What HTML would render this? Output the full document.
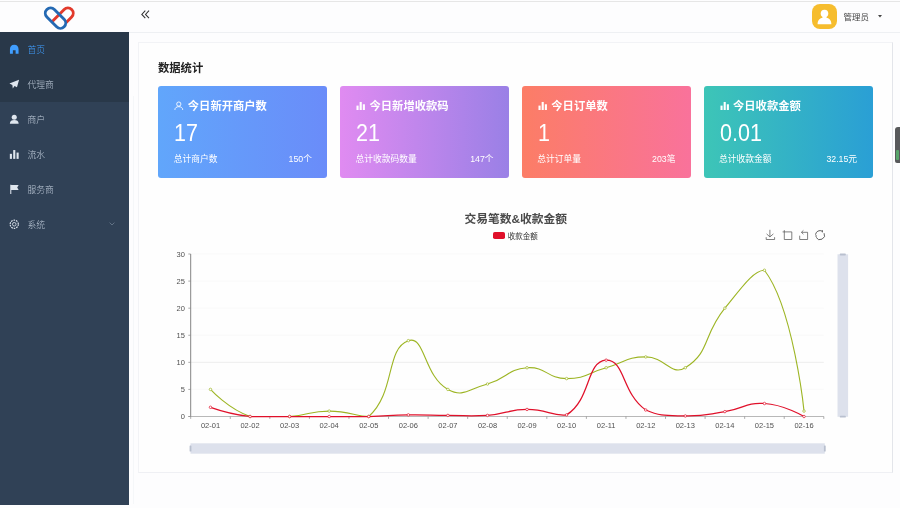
<!DOCTYPE html>
<html lang="zh-CN">
<head>
<meta charset="utf-8">
<title>数据统计</title>
<style>
*{box-sizing:border-box;margin:0;padding:0}
html,body{width:900px;height:508px;overflow:hidden;background:#fdfdfe}
body{position:relative;font-family:"Liberation Sans","Noto Sans CJK SC",sans-serif;color:#303133}
.abs{position:absolute}
#topline{left:0;top:1px;width:900px;height:1px;background:#e6e6e6}
#side{left:0;top:32px;width:128.8px;height:473.4px;background:#304156}
#side .dark{position:absolute;left:0;top:0;width:129px;height:70.2px;background:#293849}
.mi{position:absolute;left:0;width:129px;height:35px;color:#bfcbd9;font-size:8.75px;line-height:35px}
.mi span{position:absolute;left:27.5px;top:1.2px;font-weight:300}
.mi svg{position:absolute;left:8.8px;top:12px;width:10.5px;height:10.5px}
.mi.act{color:#409eff}
#logo{left:40px;top:0;width:40px;height:32px}
#hdr{left:129px;top:0;width:771px;height:33px;border-bottom:1px solid #eef0f3}
#panel{left:138px;top:42px;width:754.6px;height:431px;border:1px solid #f2f3f6;border-right-color:#e3e5ea;border-bottom-color:#eff0f4;background:#fefefe}
#ttl{left:158px;top:60.8px;font-size:11.3px;font-weight:bold;color:#222;line-height:15px}
.card{position:absolute;top:86px;width:169px;height:91.7px;border-radius:3px;color:#fff}
.card .t{position:absolute;left:29.5px;top:13.4px;font-size:11.3px;font-weight:bold;line-height:15px;white-space:nowrap}
.card .ic{position:absolute;left:16.2px;top:14.8px;width:9.6px;height:9.6px}
.card .n{position:absolute;left:16px;top:34px;font-size:23.4px;line-height:26px;transform:scaleX(.92);transform-origin:0 50%;white-space:nowrap}
.card .l{position:absolute;left:15.4px;top:66.8px;font-size:8.75px;line-height:12px;white-space:nowrap}
.card .r{position:absolute;right:15.4px;top:66.8px;font-size:8.75px;line-height:12px;white-space:nowrap}
#user{left:843.5px;top:10.5px;font-size:8.5px;line-height:12px;color:#444}
#avatar{left:811.5px;top:4px;width:25px;height:25px;border-radius:8px;background:#f6bd2e;overflow:hidden}
.ax{font-size:7.5px;fill:#505050;font-family:"Liberation Sans",sans-serif}
</style>
</head>
<body>
<div class="abs" id="topline"></div>

<!-- logo -->
<svg class="abs" id="logo" viewBox="40 0 40 32">
  <g fill="none" stroke-width="2.9">
    <path d="M51.75 21.95 L64.15 9.55 A5.3 5.3 0 0 1 71.65 17.05 L65.7 23" stroke="#e23a2b"/>
    <rect x="-5.3" y="-12.2" width="10.6" height="24.4" rx="5.3" transform="translate(55.5 18.2) rotate(-45)" stroke="#2469b3"/>
  </g>
</svg>

<!-- header -->
<div class="abs" id="hdr"></div>
<svg class="abs" style="left:140.5px;top:9.8px;width:9px;height:9px" viewBox="0 0 9 9" fill="none" stroke="#333" stroke-width="1.05">
  <path d="M4.3 0.6 L0.8 4.4 L4.3 8.2"/><path d="M8 0.6 L4.5 4.4 L8 8.2"/>
</svg>
<div class="abs" id="avatar">
  <svg viewBox="0 0 25 25" width="25" height="25"><circle cx="12.5" cy="9.6" r="3.8" fill="#fff"/><path d="M5.6 20.2 C5.6 16 8 14.6 10.6 13.6 V11 H14.4 V13.6 C17 14.6 19.4 16 19.4 20.2 Z" fill="#fff"/></svg>
</div>
<div class="abs" id="user">管理员</div>
<svg class="abs" style="left:877.5px;top:15.3px;width:4px;height:2.6px" viewBox="0 0 4 2.6"><path d="M0 0 H4 L2 2.6 Z" fill="#444"/></svg>

<!-- sidebar -->
<div class="abs" id="side">
  <div class="dark"></div>
  <div class="mi act" style="top:0"><svg viewBox="0 0 10 10"><path d="M5 0.6 C2.3 0.6 0.9 2.6 0.9 5 V9.2 H3.7 V6 H6.3 V9.2 H9.1 V5 C9.1 2.6 7.7 0.6 5 0.6 Z" fill="#409eff"/></svg><span>首页</span></div>
  <div class="mi" style="top:35px"><svg viewBox="0 0 10 10"><path d="M9.6 0.6 L0.4 4.4 L3.2 5.6 L3.6 9 L5.3 6.6 L7.6 7.8 Z" fill="#dfe6ee"/></svg><span>代理商</span></div>
  <div class="mi" style="top:70px"><svg viewBox="0 0 10 10"><circle cx="5" cy="3" r="2.4" fill="#dfe6ee"/><path d="M0.8 9.4 C0.8 6.8 2.6 5.8 5 5.8 C7.4 5.8 9.2 6.8 9.2 9.4 Z" fill="#dfe6ee"/></svg><span>商户</span></div>
  <div class="mi" style="top:105px"><svg viewBox="0 0 10 10"><rect x="0.8" y="4.6" width="2" height="4.8" fill="#dfe6ee"/><rect x="4" y="1" width="2" height="8.4" fill="#dfe6ee"/><rect x="7.2" y="3.4" width="2" height="6" fill="#dfe6ee"/></svg><span>流水</span></div>
  <div class="mi" style="top:140px"><svg viewBox="0 0 10 10"><path d="M1.2 0.6 H2.2 V9.6 H1.2 Z M2.2 1 H9.2 L7.8 3.4 L9.2 5.8 H2.2 Z" fill="#dfe6ee"/></svg><span>服务商</span></div>
  <div class="mi" style="top:175px"><svg viewBox="0 0 10 10" fill="none" stroke="#dfe6ee"><circle cx="5" cy="5" r="3.9" stroke-width="1.1" stroke-dasharray="1.6 0.85"/><circle cx="5" cy="5" r="1.7" stroke-width="0.8"/></svg><span>系统</span>
    <svg style="left:109px;top:14.6px;width:6px;height:4px" viewBox="0 0 6 4" fill="none" stroke="#6f7f92" stroke-width="0.8"><path d="M0.6 0.6 L3 3 L5.4 0.6"/></svg></div>
</div>

<!-- panel -->
<div class="abs" style="left:133.4px;top:96px;width:1px;height:408px;background:#f5f7f9"></div>
<div class="abs" id="panel"></div>
<div class="abs" id="ttl">数据统计</div>

<div class="card" style="left:158.3px;background:linear-gradient(90deg,#61a6fb,#6a8cf9)">
  <svg class="ic" viewBox="0 0 10 10" fill="none" stroke="#fff" stroke-width="0.9"><circle cx="5" cy="3.2" r="2.2"/><path d="M0.9 9.3 C0.9 7 2.8 5.9 5 5.9 C7.2 5.9 9.1 7 9.1 9.3"/></svg>
  <div class="t">今日新开商户数</div><div class="n">17</div><div class="l">总计商户数</div><div class="r">150个</div>
</div>
<div class="card" style="left:340px;background:linear-gradient(90deg,#e08bf1,#9a80e6)">
  <svg class="ic" viewBox="0 0 10 10" fill="#fff"><rect x="0.5" y="4.8" width="2.2" height="4.6"/><rect x="3.8" y="1" width="2.2" height="8.4"/><rect x="7.1" y="3.4" width="2.2" height="6"/></svg>
  <div class="t">今日新增收款码</div><div class="n">21</div><div class="l">总计收款码数量</div><div class="r">147个</div>
</div>
<div class="card" style="left:521.8px;background:linear-gradient(90deg,#fc7d66,#f9729b)">
  <svg class="ic" viewBox="0 0 10 10" fill="#fff"><rect x="0.5" y="4.8" width="2.2" height="4.6"/><rect x="3.8" y="1" width="2.2" height="8.4"/><rect x="7.1" y="3.4" width="2.2" height="6"/></svg>
  <div class="t">今日订单数</div><div class="n">1</div><div class="l">总计订单量</div><div class="r">203笔</div>
</div>
<div class="card" style="left:703.5px;background:linear-gradient(90deg,#3dc5b7,#2a9fd5)">
  <svg class="ic" viewBox="0 0 10 10" fill="#fff"><rect x="0.5" y="4.8" width="2.2" height="4.6"/><rect x="3.8" y="1" width="2.2" height="8.4"/><rect x="7.1" y="3.4" width="2.2" height="6"/></svg>
  <div class="t">今日收款金额</div><div class="n">0.01</div><div class="l">总计收款金额</div><div class="r">32.15元</div>
</div>

<!-- chart -->
<svg class="abs" style="left:0;top:0;width:900px;height:508px;pointer-events:none" viewBox="0 0 900 508">
  <text x="515.7" y="223.2" text-anchor="middle" style="font-size:11.75px;font-weight:bold;fill:#4a4a4a;font-family:'Liberation Sans','Noto Sans CJK SC',sans-serif">交易笔数&amp;收款金额</text>
  <rect x="493" y="232" width="12" height="7" rx="1.8" fill="#e0102a"/>
  <text x="507.8" y="238.5" style="font-size:7.5px;fill:#333;font-family:'Liberation Sans','Noto Sans CJK SC',sans-serif">收款金额</text>
  <!-- toolbox -->
  <g fill="none" stroke="#555" stroke-width="0.75">
    <path d="M769.9 229.8 V236.8 M766.6 233.9 L769.9 236.9 L773.4 233.9 M766.2 237.2 V239.5 H774.6 V237.2"/>
    <path d="M784.3 230.1 V239.5 H791.8 V231.9 H782.6"/>
    <path d="M799.7 235.7 V239.5 H807.6 V232.3 H801.6 M803.4 230.4 L801.4 232.3 L803.4 234.2"/>
    <path d="M824.08 233.2 A4.5 4.5 0 0 1 816.1 237.35 M815.52 234.71 A4.5 4.5 0 0 1 822.25 231.2 M822.4 230.2 V232.4 M815.2 236 H817" stroke="#444" stroke-width="0.85"/>
  </g>
  <!-- sliders -->
  <rect x="837.5" y="254.3" width="10.6" height="162.5" fill="#dde1ec"/>
  <rect x="190.5" y="443.3" width="634.3" height="10.4" fill="#dde1ec"/>
  <rect x="189.6" y="445.5" width="1.8" height="6" rx="0.6" fill="#b9c0cf"/>
  <rect x="823.9" y="445.5" width="1.8" height="6" rx="0.6" fill="#b9c0cf"/>
  <rect x="839.8" y="253.6" width="6" height="1.8" rx="0.6" fill="#b9c0cf"/>
  <rect x="839.8" y="415.8" width="6" height="1.8" rx="0.6" fill="#b9c0cf"/>
<line x1="190.7" x2="823.8" y1="389.42" y2="389.42" stroke="#f7f7f7" stroke-width="0.6"/>
<line x1="190.7" x2="823.8" y1="362.33" y2="362.33" stroke="#e2e2e2" stroke-width="0.6"/>
<line x1="190.7" x2="823.8" y1="335.25" y2="335.25" stroke="#f7f7f7" stroke-width="0.6"/>
<line x1="190.7" x2="823.8" y1="308.17" y2="308.17" stroke="#f7f7f7" stroke-width="0.6"/>
<line x1="190.7" x2="823.8" y1="281.08" y2="281.08" stroke="#f7f7f7" stroke-width="0.6"/>
<line x1="190.7" x2="823.8" y1="254.00" y2="254.00" stroke="#f7f7f7" stroke-width="0.6"/>
<line x1="190.7" x2="190.7" y1="254.0" y2="416.5" stroke="#777" stroke-width="0.9"/>
<line x1="188.3" x2="823.8" y1="416.5" y2="416.5" stroke="#999" stroke-width="0.7"/>
<line x1="188.3" x2="190.7" y1="416.50" y2="416.50" stroke="#888" stroke-width="0.7"/>
<text x="184.9" y="419.20" text-anchor="end" class="ax">0</text>
<line x1="188.3" x2="190.7" y1="389.42" y2="389.42" stroke="#888" stroke-width="0.7"/>
<text x="184.9" y="392.12" text-anchor="end" class="ax">5</text>
<line x1="188.3" x2="190.7" y1="362.33" y2="362.33" stroke="#888" stroke-width="0.7"/>
<text x="184.9" y="365.03" text-anchor="end" class="ax">10</text>
<line x1="188.3" x2="190.7" y1="335.25" y2="335.25" stroke="#888" stroke-width="0.7"/>
<text x="184.9" y="337.95" text-anchor="end" class="ax">15</text>
<line x1="188.3" x2="190.7" y1="308.17" y2="308.17" stroke="#888" stroke-width="0.7"/>
<text x="184.9" y="310.87" text-anchor="end" class="ax">20</text>
<line x1="188.3" x2="190.7" y1="281.08" y2="281.08" stroke="#888" stroke-width="0.7"/>
<text x="184.9" y="283.78" text-anchor="end" class="ax">25</text>
<line x1="188.3" x2="190.7" y1="254.00" y2="254.00" stroke="#888" stroke-width="0.7"/>
<text x="184.9" y="256.70" text-anchor="end" class="ax">30</text>
<line x1="190.70" x2="190.70" y1="416.5" y2="418.9" stroke="#888" stroke-width="0.7"/>
<line x1="230.27" x2="230.27" y1="416.5" y2="418.9" stroke="#888" stroke-width="0.7"/>
<line x1="269.84" x2="269.84" y1="416.5" y2="418.9" stroke="#888" stroke-width="0.7"/>
<line x1="309.41" x2="309.41" y1="416.5" y2="418.9" stroke="#888" stroke-width="0.7"/>
<line x1="348.97" x2="348.97" y1="416.5" y2="418.9" stroke="#888" stroke-width="0.7"/>
<line x1="388.54" x2="388.54" y1="416.5" y2="418.9" stroke="#888" stroke-width="0.7"/>
<line x1="428.11" x2="428.11" y1="416.5" y2="418.9" stroke="#888" stroke-width="0.7"/>
<line x1="467.68" x2="467.68" y1="416.5" y2="418.9" stroke="#888" stroke-width="0.7"/>
<line x1="507.25" x2="507.25" y1="416.5" y2="418.9" stroke="#888" stroke-width="0.7"/>
<line x1="546.82" x2="546.82" y1="416.5" y2="418.9" stroke="#888" stroke-width="0.7"/>
<line x1="586.39" x2="586.39" y1="416.5" y2="418.9" stroke="#888" stroke-width="0.7"/>
<line x1="625.96" x2="625.96" y1="416.5" y2="418.9" stroke="#888" stroke-width="0.7"/>
<line x1="665.52" x2="665.52" y1="416.5" y2="418.9" stroke="#888" stroke-width="0.7"/>
<line x1="705.09" x2="705.09" y1="416.5" y2="418.9" stroke="#888" stroke-width="0.7"/>
<line x1="744.66" x2="744.66" y1="416.5" y2="418.9" stroke="#888" stroke-width="0.7"/>
<line x1="784.23" x2="784.23" y1="416.5" y2="418.9" stroke="#888" stroke-width="0.7"/>
<line x1="823.80" x2="823.80" y1="416.5" y2="418.9" stroke="#888" stroke-width="0.7"/>
<text x="210.48" y="428.0" text-anchor="middle" class="ax">02-01</text>
<text x="250.05" y="428.0" text-anchor="middle" class="ax">02-02</text>
<text x="289.62" y="428.0" text-anchor="middle" class="ax">02-03</text>
<text x="329.19" y="428.0" text-anchor="middle" class="ax">02-04</text>
<text x="368.76" y="428.0" text-anchor="middle" class="ax">02-05</text>
<text x="408.33" y="428.0" text-anchor="middle" class="ax">02-06</text>
<text x="447.90" y="428.0" text-anchor="middle" class="ax">02-07</text>
<text x="487.47" y="428.0" text-anchor="middle" class="ax">02-08</text>
<text x="527.03" y="428.0" text-anchor="middle" class="ax">02-09</text>
<text x="566.60" y="428.0" text-anchor="middle" class="ax">02-10</text>
<text x="606.17" y="428.0" text-anchor="middle" class="ax">02-11</text>
<text x="645.74" y="428.0" text-anchor="middle" class="ax">02-12</text>
<text x="685.31" y="428.0" text-anchor="middle" class="ax">02-13</text>
<text x="724.88" y="428.0" text-anchor="middle" class="ax">02-14</text>
<text x="764.45" y="428.0" text-anchor="middle" class="ax">02-15</text>
<text x="804.02" y="428.0" text-anchor="middle" class="ax">02-16</text>
<path d="M210.48 389.42 C210.48 389.42 228.37 409.08 250.05 416.50 C267.94 416.50 269.93 416.50 289.62 416.50 C309.50 415.14 309.41 411.08 329.19 411.08 C348.97 411.08 356.16 416.50 368.76 416.50 C395.73 392.50 385.51 348.48 408.33 340.67 C425.08 334.93 423.71 376.17 447.90 389.42 C463.28 397.84 468.36 389.23 487.47 384.00 C507.93 378.40 506.84 369.13 527.03 367.75 C546.41 366.42 546.82 378.58 566.60 378.58 C586.39 378.58 586.39 373.17 606.17 367.75 C625.96 362.33 625.96 356.92 645.74 356.92 C665.52 356.92 670.89 376.63 685.31 367.75 C710.46 352.26 702.47 335.77 724.88 308.17 C742.04 287.02 753.66 270.25 764.45 270.25 C793.23 307.68 804.02 411.08 804.02 411.08" fill="none" stroke="#9db524" stroke-width="1.1" stroke-linejoin="round"/>
<circle cx="210.48" cy="389.42" r="1.25" fill="#fff" stroke="#9db524" stroke-width="0.7"/>
<circle cx="250.05" cy="416.50" r="1.25" fill="#fff" stroke="#9db524" stroke-width="0.7"/>
<circle cx="289.62" cy="416.50" r="1.25" fill="#fff" stroke="#9db524" stroke-width="0.7"/>
<circle cx="329.19" cy="411.08" r="1.25" fill="#fff" stroke="#9db524" stroke-width="0.7"/>
<circle cx="368.76" cy="416.50" r="1.25" fill="#fff" stroke="#9db524" stroke-width="0.7"/>
<circle cx="408.33" cy="340.67" r="1.25" fill="#fff" stroke="#9db524" stroke-width="0.7"/>
<circle cx="447.90" cy="389.42" r="1.25" fill="#fff" stroke="#9db524" stroke-width="0.7"/>
<circle cx="487.47" cy="384.00" r="1.25" fill="#fff" stroke="#9db524" stroke-width="0.7"/>
<circle cx="527.03" cy="367.75" r="1.25" fill="#fff" stroke="#9db524" stroke-width="0.7"/>
<circle cx="566.60" cy="378.58" r="1.25" fill="#fff" stroke="#9db524" stroke-width="0.7"/>
<circle cx="606.17" cy="367.75" r="1.25" fill="#fff" stroke="#9db524" stroke-width="0.7"/>
<circle cx="645.74" cy="356.92" r="1.25" fill="#fff" stroke="#9db524" stroke-width="0.7"/>
<circle cx="685.31" cy="367.75" r="1.25" fill="#fff" stroke="#9db524" stroke-width="0.7"/>
<circle cx="724.88" cy="308.17" r="1.25" fill="#fff" stroke="#9db524" stroke-width="0.7"/>
<circle cx="764.45" cy="270.25" r="1.25" fill="#fff" stroke="#9db524" stroke-width="0.7"/>
<circle cx="804.02" cy="411.08" r="1.25" fill="#fff" stroke="#9db524" stroke-width="0.7"/>

<path d="M210.48 407.29 C210.48 407.29 230.01 414.17 250.05 416.50 C269.58 416.50 269.84 416.50 289.62 416.50 C309.41 416.50 309.41 416.50 329.19 416.50 C348.97 416.50 348.98 416.50 368.76 416.50 C388.55 416.09 388.54 415.15 408.33 414.88 C428.11 414.60 428.11 415.28 447.90 415.42 C467.68 415.55 467.79 416.50 487.47 415.42 C507.36 413.92 507.23 409.59 527.03 409.46 C546.80 409.32 551.90 416.50 566.60 414.88 C591.47 399.39 585.80 361.42 606.17 360.17 C625.37 360.17 621.45 392.87 645.74 410.00 C661.02 416.50 665.47 415.55 685.31 415.96 C705.04 416.36 705.24 414.72 724.88 411.62 C744.81 408.49 744.97 402.30 764.45 403.50 C784.53 404.74 804.02 416.50 804.02 416.50" fill="none" stroke="#e0102a" stroke-width="1.25" stroke-linejoin="round"/>
<circle cx="210.48" cy="407.29" r="1.25" fill="#fff" stroke="#e0102a" stroke-width="0.7"/>
<circle cx="250.05" cy="416.50" r="1.25" fill="#fff" stroke="#e0102a" stroke-width="0.7"/>
<circle cx="289.62" cy="416.50" r="1.25" fill="#fff" stroke="#e0102a" stroke-width="0.7"/>
<circle cx="329.19" cy="416.50" r="1.25" fill="#fff" stroke="#e0102a" stroke-width="0.7"/>
<circle cx="368.76" cy="416.50" r="1.25" fill="#fff" stroke="#e0102a" stroke-width="0.7"/>
<circle cx="408.33" cy="414.88" r="1.25" fill="#fff" stroke="#e0102a" stroke-width="0.7"/>
<circle cx="447.90" cy="415.42" r="1.25" fill="#fff" stroke="#e0102a" stroke-width="0.7"/>
<circle cx="487.47" cy="415.42" r="1.25" fill="#fff" stroke="#e0102a" stroke-width="0.7"/>
<circle cx="527.03" cy="409.46" r="1.25" fill="#fff" stroke="#e0102a" stroke-width="0.7"/>
<circle cx="566.60" cy="414.88" r="1.25" fill="#fff" stroke="#e0102a" stroke-width="0.7"/>
<circle cx="606.17" cy="360.17" r="1.25" fill="#fff" stroke="#e0102a" stroke-width="0.7"/>
<circle cx="645.74" cy="410.00" r="1.25" fill="#fff" stroke="#e0102a" stroke-width="0.7"/>
<circle cx="685.31" cy="415.96" r="1.25" fill="#fff" stroke="#e0102a" stroke-width="0.7"/>
<circle cx="724.88" cy="411.62" r="1.25" fill="#fff" stroke="#e0102a" stroke-width="0.7"/>
<circle cx="764.45" cy="403.50" r="1.25" fill="#fff" stroke="#e0102a" stroke-width="0.7"/>
<circle cx="804.02" cy="416.50" r="1.25" fill="#fff" stroke="#e0102a" stroke-width="0.7"/>

</svg>

<!-- right edge widget -->
<div class="abs" style="left:894.8px;top:126.5px;width:5.2px;height:36px;background:#58595b;border-radius:3px 0 0 2px"></div>
<div class="abs" style="left:895.6px;top:150px;width:3px;height:9.5px;background:#57a56a;border-radius:1px"></div>
</body>
</html>
